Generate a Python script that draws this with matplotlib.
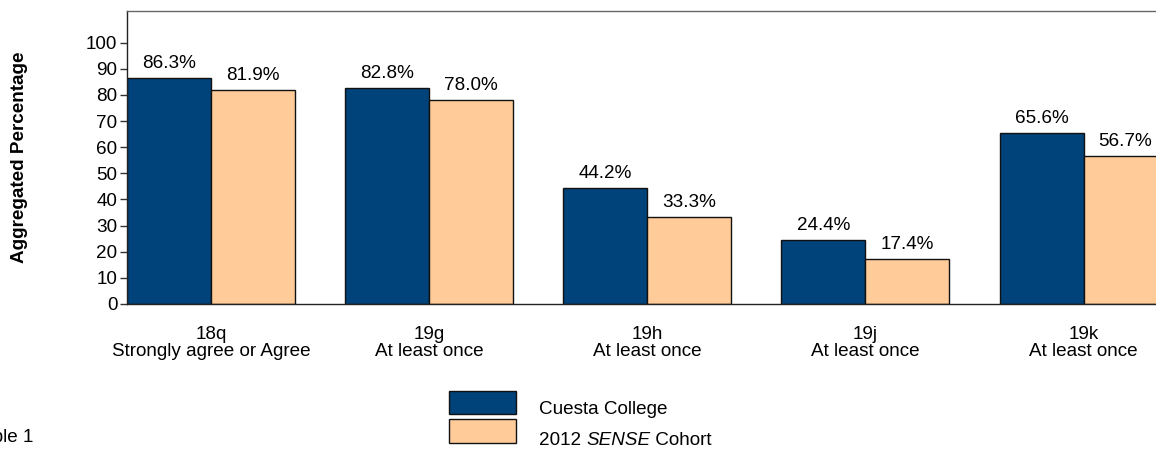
import matplotlib
matplotlib.use('Agg')
import matplotlib.pyplot as plt
from matplotlib.patches import Rectangle

categories = ["18q\nStrongly agree or Agree", "19g\nAt least once", "19h\nAt least once",
              "19j\nAt least once", "19k\nAt least once"]
cuesta = [86.3, 82.8, 44.2, 24.4, 65.6]
sense = [81.9, 78.0, 33.3, 17.4, 56.7]
series_names = ["Cuesta College", "2012 ", "SENSE", " Cohort"]
yticks = list(range(0, 101, 10))

plt.rcParams['font.family'] = ['Liberation Sans', 'DejaVu Sans']
FS = 13.6
NAVY = '#00427A'
PEACH = '#FFCB99'

W, H = 1156, 449
fig = plt.figure(figsize=(W / 100, H / 100), dpi=100)
ax = fig.add_axes([127 / W, 1 - 304 / H, 1040.5 / W, 293 / H])

w = 0.385
x = list(range(len(categories)))
ax.bar([i - w / 2 for i in x], cuesta, width=w, color=NAVY, edgecolor='#111111', linewidth=1.0)
ax.bar([i + w / 2 for i in x], sense, width=w, color=PEACH, edgecolor='#111111', linewidth=1.0)

for i in x:
    ax.annotate(f"{cuesta[i]:.1f}%", (i - w / 2, cuesta[i]), xytext=(0, 7.2),
                textcoords='offset points', ha='center', va='baseline', fontsize=FS)
    ax.annotate(f"{sense[i]:.1f}%", (i + w / 2, sense[i]), xytext=(0, 7.2),
                textcoords='offset points', ha='center', va='baseline', fontsize=FS)

ax.set_xlim(-0.385, 4.385)
ax.set_ylim(0, 112.1)
ax.set_yticks(yticks)
ax.set_yticklabels([str(t) for t in yticks], fontsize=FS)
ax.tick_params(axis='y', length=5, width=1, pad=2, color='#333333')
ax.set_xticks(x)
ax.set_xticklabels(categories, fontsize=FS, linespacing=1.0)
ax.tick_params(axis='x', length=0, pad=16)

ax.spines['right'].set_visible(False)
ax.spines['top'].set_color('#666666')
ax.spines['left'].set_color('#222222')
ax.spines['bottom'].set_color('#222222')
for s in ax.spines.values():
    s.set_linewidth(1.0)

fig.text(20 / W, 1 - 157 / H, "Aggregated Percentage", rotation=90, ha='center', va='center',
         fontsize=FS, fontweight='bold')

# legend
fig.add_artist(Rectangle((449 / W, 1 - 414 / H), 67 / W, 23 / H, transform=fig.transFigure,
                         facecolor=NAVY, edgecolor='#111111', linewidth=1.0))
fig.add_artist(Rectangle((449 / W, 1 - 443 / H), 67 / W, 24 / H, transform=fig.transFigure,
                         facecolor=PEACH, edgecolor='#111111', linewidth=1.0))
fig.text(539 / W, 1 - 414 / H, series_names[0], ha='left', va='baseline', fontsize=FS)

renderer = fig.canvas.get_renderer()
xpos = 539
for part, style in zip(series_names[1:], ['normal', 'italic', 'normal']):
    t = fig.text(xpos / W, 1 - 445 / H, part, ha='left', va='baseline', fontsize=FS, style=style)
    bb = t.get_window_extent(renderer)
    xpos += bb.width

fig.text(33 / W, 1 - 442 / H, "Table 1", ha='right', va='baseline', fontsize=FS)

fig.savefig('out.png', dpi=100)
